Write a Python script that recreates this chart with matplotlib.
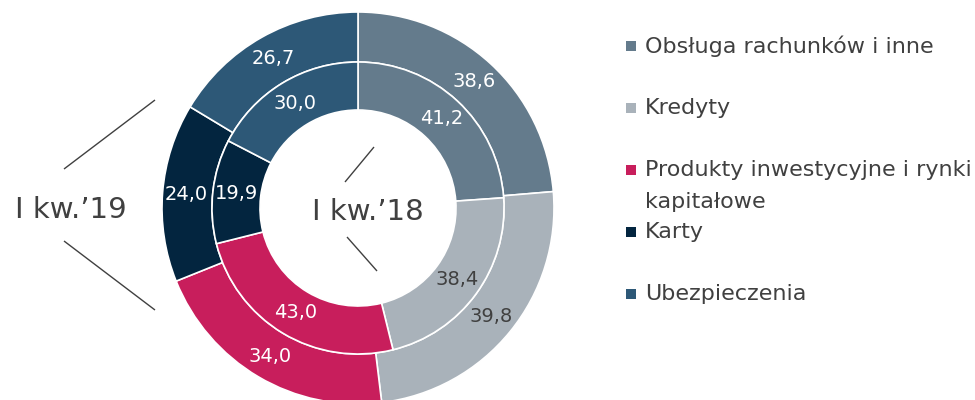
import numpy as np
import matplotlib
matplotlib.use("Agg")
import matplotlib.pyplot as plt

# ---------------------------------------------------------------- data ---- #
categories = [
    "Obsługa rachunków i inne",
    "Kredyty",
    "Produkty inwestycyjne i rynki\nkapitałowe",
    "Karty",
    "Ubezpieczenia",
]
q1_2019 = [38.6, 39.8, 34.0, 24.0, 26.7]   # outer ring
q1_2018 = [41.2, 38.4, 43.0, 19.9, 30.0]   # inner ring
ring_names = ["I kw.\u201919", "I kw.\u201918"]

colors = ["#647b8c", "#a9b2ba", "#c81e5c", "#03253f", "#2d5877"]
label_colors = ["white", "#404040", "white", "white", "white"]
TXT = "#404040"

plt.rcParams["font.family"] = ["DejaVu Sans"]

# ------------------------------------------------------------- figure ----- #
W, H = 975, 400
fig = plt.figure(figsize=(W / 100, H / 100), dpi=100)
ax = fig.add_axes([0, 0, 1, 1])

cx, cy = 358, H - 208          # pie centre (data units == pixels)
r_out, r_mid, r_hole = 196, 146, 98

wedge_kw = dict(edgecolor="white", linewidth=1.2)
outer, _ = ax.pie(q1_2019, radius=r_out, center=(cx, cy), startangle=90,
                  counterclock=False, colors=colors,
                  wedgeprops=dict(width=r_out - r_mid, **wedge_kw))
inner, _ = ax.pie(q1_2018, radius=r_mid, center=(cx, cy), startangle=90,
                  counterclock=False, colors=colors,
                  wedgeprops=dict(width=r_mid - r_hole, **wedge_kw))


def fmt(v):
    return f"{v:.1f}".replace(".", ",")


def put_labels(wedges, values, r):
    for w, v, c in zip(wedges, values, label_colors):
        a = np.deg2rad((w.theta1 + w.theta2) / 2)
        ax.text(cx + r * np.cos(a), cy + r * np.sin(a), fmt(v),
                ha="center", va="center", fontsize=14, color=c)


put_labels(outer, q1_2019, 172)
put_labels(inner, q1_2018, 122)

# ring captions with pointer lines (image coords -> data coords)
def img(x, y):
    return x, H - y

ax.text(*img(71, 210), ring_names[0], ha="center", va="center",
        fontsize=21, color=TXT)
ax.text(*img(368, 212), ring_names[1], ha="center", va="center",
        fontsize=21, color=TXT)
for (x0, y0), (x1, y1) in [((64, 169), (155, 100)), ((64, 241), (155, 310)),
                           ((345, 182), (374, 147)), ((347, 237), (377, 271))]:
    ax.plot(*zip(img(x0, y0), img(x1, y1)), color=TXT, lw=1.0,
            solid_capstyle="butt")

# legend drawn by hand so the wrapped entry keeps the even row pitch
for i, (name, c) in enumerate(zip(categories, colors)):
    y = H - (46 + 62 * i)
    ax.scatter([631], [y], marker="s", s=62, color=c, linewidths=0)
    first, *rest = name.split("\n")
    ax.text(645, y, first, ha="left", va="center", fontsize=16, color=TXT)
    for j, line in enumerate(rest, 1):
        ax.text(645, y - 32 * j, line, ha="left", va="center",
                fontsize=16, color=TXT)

ax.set_xlim(0, W)
ax.set_ylim(0, H)
ax.set_aspect("equal")
ax.axis("off")

fig.savefig("out.png", dpi=100)
